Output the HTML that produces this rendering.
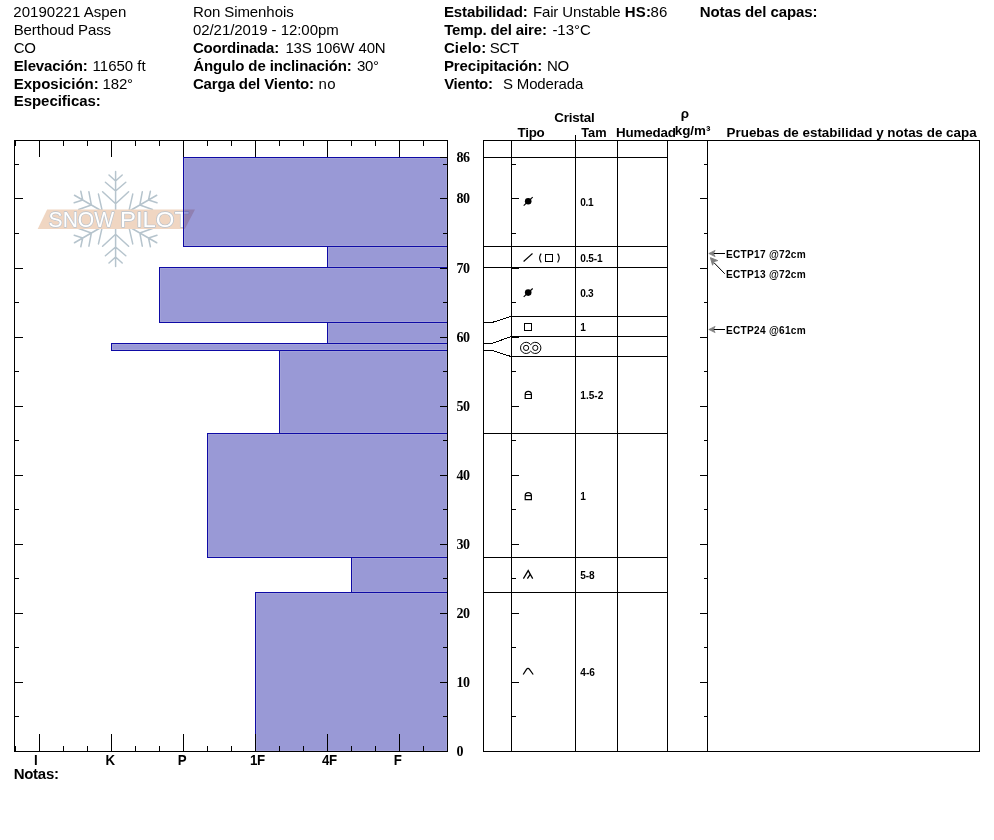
<!DOCTYPE html>
<html lang="es"><head><meta charset="utf-8"><title>SnowPilot - 20190221 Aspen</title>
<style>
html,body{margin:0;padding:0;background:#fff;}
body{width:994px;height:840px;overflow:hidden;font-family:"Liberation Sans",Arial,sans-serif;}
svg{display:block;}

</style></head><body>
<svg width="994" height="840" viewBox="0 0 994 840">
<rect width="994" height="840" fill="#fff"/>
<g id="logo">
<g transform="translate(115.6 219.0)" fill="none" stroke="#b6c4cd" stroke-width="1.5" stroke-linecap="round" stroke-linejoin="round">
<path transform="rotate(0)" d="M0 -9 L0 -47.5 M-6.6 -44 L0 -38 L6.6 -44 M-10.2 -36.7 L0 -28 L10.2 -36.7 M-13 -27.3 L0 -15.3 L13 -27.3"/>
<path transform="rotate(60)" d="M0 -9 L0 -47.5 M-6.6 -44 L0 -38 L6.6 -44 M-10.2 -36.7 L0 -28 L10.2 -36.7 M-13 -27.3 L0 -15.3 L13 -27.3"/>
<path transform="rotate(120)" d="M0 -9 L0 -47.5 M-6.6 -44 L0 -38 L6.6 -44 M-10.2 -36.7 L0 -28 L10.2 -36.7 M-13 -27.3 L0 -15.3 L13 -27.3"/>
<path transform="rotate(180)" d="M0 -9 L0 -47.5 M-6.6 -44 L0 -38 L6.6 -44 M-10.2 -36.7 L0 -28 L10.2 -36.7 M-13 -27.3 L0 -15.3 L13 -27.3"/>
<path transform="rotate(240)" d="M0 -9 L0 -47.5 M-6.6 -44 L0 -38 L6.6 -44 M-10.2 -36.7 L0 -28 L10.2 -36.7 M-13 -27.3 L0 -15.3 L13 -27.3"/>
<path transform="rotate(300)" d="M0 -9 L0 -47.5 M-6.6 -44 L0 -38 L6.6 -44 M-10.2 -36.7 L0 -28 L10.2 -36.7 M-13 -27.3 L0 -15.3 L13 -27.3"/>
</g>
<polygon points="47.1,209.6 195,209.6 184.8,228.9 37.7,228.9" fill="#f0d6c2"/>
<text y="227.3" font-family="Liberation Sans, Arial, Helvetica, sans-serif" font-size="21.5" fill="#ffffff" stroke="#b9c3cd" stroke-width="1.3" stroke-linejoin="round" paint-order="stroke"><tspan x="48.6" textLength="65.5" lengthAdjust="spacingAndGlyphs">SNOW</tspan> <tspan x="120" textLength="69" lengthAdjust="spacingAndGlyphs">PILOT</tspan></text>
</g>
<g shape-rendering="crispEdges">
<rect x="183.5" y="157.5" width="264" height="89" fill="rgba(0,0,153,0.4)" stroke="#0e0aa5" stroke-width="1"/>
<rect x="184.5" y="158.5" width="262" height="87" fill="none" stroke="rgba(255,255,255,0.09)" stroke-width="1"/>
<rect x="327.5" y="246.5" width="120" height="21" fill="rgba(0,0,153,0.4)" stroke="#0e0aa5" stroke-width="1"/>
<rect x="328.5" y="247.5" width="118" height="19" fill="none" stroke="rgba(255,255,255,0.09)" stroke-width="1"/>
<rect x="159.5" y="267.5" width="288" height="55" fill="rgba(0,0,153,0.4)" stroke="#0e0aa5" stroke-width="1"/>
<rect x="160.5" y="268.5" width="286" height="53" fill="none" stroke="rgba(255,255,255,0.09)" stroke-width="1"/>
<rect x="327.5" y="322.5" width="120" height="21" fill="rgba(0,0,153,0.4)" stroke="#0e0aa5" stroke-width="1"/>
<rect x="328.5" y="323.5" width="118" height="19" fill="none" stroke="rgba(255,255,255,0.09)" stroke-width="1"/>
<rect x="111.5" y="343.5" width="336" height="7" fill="rgba(0,0,153,0.4)" stroke="#0e0aa5" stroke-width="1"/>
<rect x="112.5" y="344.5" width="334" height="5" fill="none" stroke="rgba(255,255,255,0.09)" stroke-width="1"/>
<rect x="279.5" y="350.5" width="168" height="83" fill="rgba(0,0,153,0.4)" stroke="#0e0aa5" stroke-width="1"/>
<rect x="280.5" y="351.5" width="166" height="81" fill="none" stroke="rgba(255,255,255,0.09)" stroke-width="1"/>
<rect x="207.5" y="433.5" width="240" height="124" fill="rgba(0,0,153,0.4)" stroke="#0e0aa5" stroke-width="1"/>
<rect x="208.5" y="434.5" width="238" height="122" fill="none" stroke="rgba(255,255,255,0.09)" stroke-width="1"/>
<rect x="351.5" y="557.5" width="96" height="35" fill="rgba(0,0,153,0.4)" stroke="#0e0aa5" stroke-width="1"/>
<rect x="352.5" y="558.5" width="94" height="33" fill="none" stroke="rgba(255,255,255,0.09)" stroke-width="1"/>
<rect x="255.5" y="592.5" width="192" height="159" fill="rgba(0,0,153,0.4)" stroke="#0e0aa5" stroke-width="1"/>
<rect x="256.5" y="593.5" width="190" height="157" fill="none" stroke="rgba(255,255,255,0.09)" stroke-width="1"/>
<rect x="14" y="140" width="434" height="1" fill="#000"/>
<rect x="14" y="751" width="434" height="1" fill="#000"/>
<rect x="14" y="140" width="1" height="612" fill="#000"/>
<rect x="447" y="140" width="1" height="612" fill="#000"/>
<rect x="15" y="141" width="1" height="5" fill="#000"/>
<rect x="15" y="746" width="1" height="5" fill="#000"/>
<rect x="39" y="141" width="1" height="16" fill="#000"/>
<rect x="39" y="734" width="1" height="17" fill="#000"/>
<rect x="63" y="141" width="1" height="5" fill="#000"/>
<rect x="63" y="746" width="1" height="5" fill="#000"/>
<rect x="87" y="141" width="1" height="5" fill="#000"/>
<rect x="87" y="746" width="1" height="5" fill="#000"/>
<rect x="111" y="141" width="1" height="16" fill="#000"/>
<rect x="111" y="734" width="1" height="17" fill="#000"/>
<rect x="135" y="141" width="1" height="5" fill="#000"/>
<rect x="135" y="746" width="1" height="5" fill="#000"/>
<rect x="159" y="141" width="1" height="5" fill="#000"/>
<rect x="159" y="746" width="1" height="5" fill="#000"/>
<rect x="183" y="141" width="1" height="16" fill="#000"/>
<rect x="183" y="734" width="1" height="17" fill="#000"/>
<rect x="207" y="141" width="1" height="5" fill="#000"/>
<rect x="207" y="746" width="1" height="5" fill="#000"/>
<rect x="231" y="141" width="1" height="5" fill="#000"/>
<rect x="231" y="746" width="1" height="5" fill="#000"/>
<rect x="255" y="141" width="1" height="16" fill="#000"/>
<rect x="255" y="734" width="1" height="17" fill="#000"/>
<rect x="279" y="141" width="1" height="5" fill="#000"/>
<rect x="279" y="746" width="1" height="5" fill="#000"/>
<rect x="303" y="141" width="1" height="5" fill="#000"/>
<rect x="303" y="746" width="1" height="5" fill="#000"/>
<rect x="327" y="141" width="1" height="16" fill="#000"/>
<rect x="327" y="734" width="1" height="17" fill="#000"/>
<rect x="351" y="141" width="1" height="5" fill="#000"/>
<rect x="351" y="746" width="1" height="5" fill="#000"/>
<rect x="375" y="141" width="1" height="5" fill="#000"/>
<rect x="375" y="746" width="1" height="5" fill="#000"/>
<rect x="399" y="141" width="1" height="16" fill="#000"/>
<rect x="399" y="734" width="1" height="17" fill="#000"/>
<rect x="423" y="141" width="1" height="5" fill="#000"/>
<rect x="423" y="746" width="1" height="5" fill="#000"/>
<rect x="447" y="141" width="1" height="5" fill="#000"/>
<rect x="447" y="746" width="1" height="5" fill="#000"/>
<rect x="15" y="716" width="4" height="1" fill="#000"/>
<rect x="443" y="716" width="4" height="1" fill="#000"/>
<rect x="15" y="682" width="8" height="1" fill="#000"/>
<rect x="440" y="682" width="7" height="1" fill="#000"/>
<rect x="15" y="647" width="4" height="1" fill="#000"/>
<rect x="443" y="647" width="4" height="1" fill="#000"/>
<rect x="15" y="613" width="8" height="1" fill="#000"/>
<rect x="440" y="613" width="7" height="1" fill="#000"/>
<rect x="15" y="578" width="4" height="1" fill="#000"/>
<rect x="443" y="578" width="4" height="1" fill="#000"/>
<rect x="15" y="544" width="8" height="1" fill="#000"/>
<rect x="440" y="544" width="7" height="1" fill="#000"/>
<rect x="15" y="509" width="4" height="1" fill="#000"/>
<rect x="443" y="509" width="4" height="1" fill="#000"/>
<rect x="15" y="475" width="8" height="1" fill="#000"/>
<rect x="440" y="475" width="7" height="1" fill="#000"/>
<rect x="15" y="440" width="4" height="1" fill="#000"/>
<rect x="443" y="440" width="4" height="1" fill="#000"/>
<rect x="15" y="406" width="8" height="1" fill="#000"/>
<rect x="440" y="406" width="7" height="1" fill="#000"/>
<rect x="15" y="371" width="4" height="1" fill="#000"/>
<rect x="443" y="371" width="4" height="1" fill="#000"/>
<rect x="15" y="337" width="8" height="1" fill="#000"/>
<rect x="440" y="337" width="7" height="1" fill="#000"/>
<rect x="15" y="302" width="4" height="1" fill="#000"/>
<rect x="443" y="302" width="4" height="1" fill="#000"/>
<rect x="15" y="268" width="8" height="1" fill="#000"/>
<rect x="440" y="268" width="7" height="1" fill="#000"/>
<rect x="15" y="233" width="4" height="1" fill="#000"/>
<rect x="443" y="233" width="4" height="1" fill="#000"/>
<rect x="15" y="198" width="8" height="1" fill="#000"/>
<rect x="440" y="198" width="7" height="1" fill="#000"/>
<rect x="15" y="164" width="4" height="1" fill="#000"/>
<rect x="443" y="164" width="4" height="1" fill="#000"/>
<rect x="440" y="157" width="7" height="1" fill="#000"/>
</g>
<text transform="translate(34.0 765) scale(0.95 1)" font-family="Liberation Sans, Arial, Helvetica, sans-serif" font-weight="bold" font-size="14" letter-spacing="0">I</text>
<text transform="translate(105.5 765) scale(0.95 1)" font-family="Liberation Sans, Arial, Helvetica, sans-serif" font-weight="bold" font-size="14" letter-spacing="0">K</text>
<text transform="translate(177.7 765) scale(0.95 1)" font-family="Liberation Sans, Arial, Helvetica, sans-serif" font-weight="bold" font-size="14" letter-spacing="0">P</text>
<text transform="translate(250.1 765) scale(0.95 1)" font-family="Liberation Sans, Arial, Helvetica, sans-serif" font-weight="bold" font-size="14" letter-spacing="-0.5">1F</text>
<text transform="translate(322.1 765) scale(0.95 1)" font-family="Liberation Sans, Arial, Helvetica, sans-serif" font-weight="bold" font-size="14" letter-spacing="-0.6">4F</text>
<text transform="translate(393.8 765) scale(0.95 1)" font-family="Liberation Sans, Arial, Helvetica, sans-serif" font-weight="bold" font-size="14" letter-spacing="0">F</text>
<text x="456.4" y="162.2" font-family="Liberation Serif, Times New Roman, serif" font-weight="bold" font-size="14" letter-spacing="-0.3">86</text>
<text x="456.4" y="203.2" font-family="Liberation Serif, Times New Roman, serif" font-weight="bold" font-size="14" letter-spacing="-0.3">80</text>
<text x="456.4" y="273.2" font-family="Liberation Serif, Times New Roman, serif" font-weight="bold" font-size="14" letter-spacing="-0.3">70</text>
<text x="456.4" y="342.2" font-family="Liberation Serif, Times New Roman, serif" font-weight="bold" font-size="14" letter-spacing="-0.3">60</text>
<text x="456.4" y="411.2" font-family="Liberation Serif, Times New Roman, serif" font-weight="bold" font-size="14" letter-spacing="-0.3">50</text>
<text x="456.4" y="480.2" font-family="Liberation Serif, Times New Roman, serif" font-weight="bold" font-size="14" letter-spacing="-0.3">40</text>
<text x="456.4" y="549.2" font-family="Liberation Serif, Times New Roman, serif" font-weight="bold" font-size="14" letter-spacing="-0.3">30</text>
<text x="456.4" y="618.2" font-family="Liberation Serif, Times New Roman, serif" font-weight="bold" font-size="14" letter-spacing="-0.3">20</text>
<text x="456.4" y="687.2" font-family="Liberation Serif, Times New Roman, serif" font-weight="bold" font-size="14" letter-spacing="-0.3">10</text>
<text x="456.4" y="756.2" font-family="Liberation Serif, Times New Roman, serif" font-weight="bold" font-size="14" letter-spacing="-0.3">0</text>
<g shape-rendering="crispEdges">
<rect x="483" y="140" width="497" height="1" fill="#000"/>
<rect x="483" y="751" width="497" height="1" fill="#000"/>
<rect x="483" y="140" width="1" height="612" fill="#000"/>
<rect x="979" y="140" width="1" height="612" fill="#000"/>
<rect x="511" y="140" width="1" height="612" fill="#000"/>
<rect x="575" y="135" width="1" height="617" fill="#000"/>
<rect x="617" y="140" width="1" height="612" fill="#000"/>
<rect x="667" y="140" width="1" height="612" fill="#000"/>
<rect x="707" y="140" width="1" height="612" fill="#000"/>
<rect x="483" y="157" width="185" height="1" fill="#000"/>
<rect x="483" y="246" width="185" height="1" fill="#000"/>
<rect x="483" y="267" width="185" height="1" fill="#000"/>
<rect x="511" y="316" width="157" height="1" fill="#000"/>
<rect x="511" y="336" width="157" height="1" fill="#000"/>
<rect x="511" y="356" width="157" height="1" fill="#000"/>
<rect x="483" y="433" width="185" height="1" fill="#000"/>
<rect x="483" y="557" width="185" height="1" fill="#000"/>
<rect x="483" y="592" width="185" height="1" fill="#000"/>
<rect x="512" y="716" width="4" height="1" fill="#000"/>
<rect x="704" y="716" width="3" height="1" fill="#000"/>
<rect x="512" y="682" width="7" height="1" fill="#000"/>
<rect x="700" y="682" width="7" height="1" fill="#000"/>
<rect x="512" y="647" width="4" height="1" fill="#000"/>
<rect x="704" y="647" width="3" height="1" fill="#000"/>
<rect x="512" y="613" width="7" height="1" fill="#000"/>
<rect x="700" y="613" width="7" height="1" fill="#000"/>
<rect x="512" y="578" width="4" height="1" fill="#000"/>
<rect x="704" y="578" width="3" height="1" fill="#000"/>
<rect x="512" y="544" width="7" height="1" fill="#000"/>
<rect x="700" y="544" width="7" height="1" fill="#000"/>
<rect x="512" y="509" width="4" height="1" fill="#000"/>
<rect x="704" y="509" width="3" height="1" fill="#000"/>
<rect x="512" y="475" width="7" height="1" fill="#000"/>
<rect x="700" y="475" width="7" height="1" fill="#000"/>
<rect x="512" y="440" width="4" height="1" fill="#000"/>
<rect x="704" y="440" width="3" height="1" fill="#000"/>
<rect x="512" y="406" width="7" height="1" fill="#000"/>
<rect x="700" y="406" width="7" height="1" fill="#000"/>
<rect x="512" y="371" width="4" height="1" fill="#000"/>
<rect x="704" y="371" width="3" height="1" fill="#000"/>
<rect x="512" y="337" width="7" height="1" fill="#000"/>
<rect x="700" y="337" width="7" height="1" fill="#000"/>
<rect x="512" y="302" width="4" height="1" fill="#000"/>
<rect x="704" y="302" width="3" height="1" fill="#000"/>
<rect x="512" y="268" width="7" height="1" fill="#000"/>
<rect x="700" y="268" width="7" height="1" fill="#000"/>
<rect x="512" y="233" width="4" height="1" fill="#000"/>
<rect x="704" y="233" width="3" height="1" fill="#000"/>
<rect x="512" y="198" width="7" height="1" fill="#000"/>
<rect x="700" y="198" width="7" height="1" fill="#000"/>
<rect x="512" y="164" width="4" height="1" fill="#000"/>
<rect x="704" y="164" width="3" height="1" fill="#000"/>
</g>
<g fill="none" stroke="#000" stroke-width="1" shape-rendering="crispEdges">
<path d="M483 322.5 L492 322.5 L511 316.5"/>
<path d="M483 343.5 L492 343.5 L511 336.5"/>
<path d="M483 350.5 L492 350.5 L511 356.5"/>
</g>
<text x="554.3" y="121.6" font-family="Liberation Sans, Arial, Helvetica, sans-serif" font-weight="bold" font-size="13.4" letter-spacing="-0.2">Cristal</text>
<text x="517.6" y="136.6" font-family="Liberation Sans, Arial, Helvetica, sans-serif" font-weight="bold" font-size="13.4" letter-spacing="-0.3">Tipo</text>
<text x="581.2" y="136.6" font-family="Liberation Sans, Arial, Helvetica, sans-serif" font-weight="bold" font-size="12.8" >Tam</text>
<text x="615.9" y="136.6" font-family="Liberation Sans, Arial, Helvetica, sans-serif" font-weight="bold" font-size="13.4" letter-spacing="-0.15">Humedad</text>
<text x="674.7" y="135" font-family="Liberation Sans, Arial, Helvetica, sans-serif" font-weight="bold" font-size="13.4" >kg/m³</text>
<text x="680.7" y="118" font-family="Liberation Sans, Arial, Helvetica, sans-serif" font-weight="bold" font-size="13.4" >ρ</text>
<text x="726.6" y="136.6" font-family="Liberation Sans, Arial, Helvetica, sans-serif" font-weight="bold" font-size="13.4" >Pruebas de estabilidad y notas de capa</text>
<text x="580.3" y="206.0" font-family="Liberation Sans, Arial, Helvetica, sans-serif" font-weight="bold" font-size="10.1" letter-spacing="-0.4">0.1</text>
<text x="580.3" y="262.1" font-family="Liberation Sans, Arial, Helvetica, sans-serif" font-weight="bold" font-size="10.1" letter-spacing="-0.2">0.5-1</text>
<text x="580.3" y="297.1" font-family="Liberation Sans, Arial, Helvetica, sans-serif" font-weight="bold" font-size="10.1" letter-spacing="-0.4">0.3</text>
<text x="580.3" y="330.7" font-family="Liberation Sans, Arial, Helvetica, sans-serif" font-weight="bold" font-size="10.1" letter-spacing="0">1</text>
<text x="580.3" y="398.9" font-family="Liberation Sans, Arial, Helvetica, sans-serif" font-weight="bold" font-size="10.1" letter-spacing="0">1.5-2</text>
<text x="580.3" y="499.7" font-family="Liberation Sans, Arial, Helvetica, sans-serif" font-weight="bold" font-size="10.1" letter-spacing="0">1</text>
<text x="580.3" y="578.8" font-family="Liberation Sans, Arial, Helvetica, sans-serif" font-weight="bold" font-size="10.1" letter-spacing="-0.1">5-8</text>
<text x="580.3" y="675.8" font-family="Liberation Sans, Arial, Helvetica, sans-serif" font-weight="bold" font-size="10.1" letter-spacing="0">4-6</text>
<g fill="none" stroke="#000" stroke-width="1.15">
<circle cx="528.2" cy="201.3" r="3.3" fill="#000" stroke="none"/>
<path d="M523.7 205.60000000000002 L532.7 197.20000000000002"/>
<circle cx="528.2" cy="292.6" r="3.3" fill="#000" stroke="none"/>
<path d="M523.7 296.90000000000003 L532.7 288.5"/>
<path d="M523.6 261.5 L532.5 253.5"/>
<path d="M541.2 253.6 Q538 258 541.2 262.5"/>
<rect x="545.5" y="254.5" width="7" height="7" shape-rendering="crispEdges" stroke-width="1"/>
<path d="M557.6 253.6 Q560.8 258 557.6 262.5"/>
<rect x="524.5" y="323.5" width="7" height="7" shape-rendering="crispEdges" stroke-width="1"/>
<path d="M530.7 344.71 A5.6 5.6 0 1 0 530.7 351.09 A5.6 5.6 0 1 0 530.7 344.71 Z" stroke-width="1"/>
<circle cx="526.1" cy="347.9" r="2.6" stroke-width="1"/>
<circle cx="535.3" cy="347.9" r="2.6" stroke-width="1"/>
<path d="M525.1999999999999 394.5 L525.1999999999999 398.5 L531.4 398.5 L531.4 394.5 A3.1 3.1 0 0 0 525.1999999999999 394.5 L531.4 394.5" stroke-width="1.2"/>
<path d="M525.1999999999999 495.7 L525.1999999999999 499.7 L531.4 499.7 L531.4 495.7 A3.1 3.1 0 0 0 525.1999999999999 495.7 L531.4 495.7" stroke-width="1.2"/>
<path d="M523.4 578.6 L528.2 570.6 L532.7 578.6 M527.4 578.6 L530 574.6" stroke-width="1.25"/>
<path d="M523.2 674.5 L526.3 669.6 Q528 667.3 529.7 669.6 L533.2 674.5" stroke-width="1.25"/>
</g>
<g stroke="#000" stroke-width="1" fill="none">
<path d="M725 253.5 L713 253.5"/>
<path d="M725 329.5 L713 329.5"/>
<path d="M724.8 273.8 L713.8 262.5"/>
</g>
<polygon transform="translate(708.5 253.5) rotate(0) scale(1)" points="0.3,0 6.6,-3.1 5,0 6.6,3.1" fill="#808080" stroke="#808080" stroke-width="0.8" stroke-linejoin="round"/>
<polygon transform="translate(708.5 329.5) rotate(0) scale(1)" points="0.3,0 6.6,-3.1 5,0 6.6,3.1" fill="#808080" stroke="#808080" stroke-width="0.8" stroke-linejoin="round"/>
<polygon transform="translate(710.2 257.4) rotate(48) scale(1.12)" points="0.3,0 6.6,-3.1 5,0 6.6,3.1" fill="#808080" stroke="#808080" stroke-width="0.8" stroke-linejoin="round"/>
<text x="726.0" y="258" font-family="Liberation Sans, Arial, Helvetica, sans-serif" font-weight="bold" font-size="10.1" letter-spacing="0.28">ECTP17 @72cm</text>
<text x="726.0" y="278" font-family="Liberation Sans, Arial, Helvetica, sans-serif" font-weight="bold" font-size="10.1" letter-spacing="0.28">ECTP13 @72cm</text>
<text x="726.0" y="334" font-family="Liberation Sans, Arial, Helvetica, sans-serif" font-weight="bold" font-size="10.1" letter-spacing="0.28">ECTP24 @61cm</text>
<text x="13.3" y="16.9" font-family="Liberation Sans, Arial, Helvetica, sans-serif" font-size="15" letter-spacing="0.03" xml:space="preserve">20190221 Aspen</text>
<text x="13.7" y="34.8" font-family="Liberation Sans, Arial, Helvetica, sans-serif" font-size="15" letter-spacing="-0.08" xml:space="preserve">Berthoud Pass</text>
<text x="13.7" y="52.7" font-family="Liberation Sans, Arial, Helvetica, sans-serif" font-size="15" letter-spacing="-0.30" xml:space="preserve">CO</text>
<text x="13.7" y="70.6" font-family="Liberation Sans, Arial, Helvetica, sans-serif" font-size="15" font-weight="bold" letter-spacing="-0.11" xml:space="preserve">Elevación:</text>
<text x="92.6" y="70.6" font-family="Liberation Sans, Arial, Helvetica, sans-serif" font-size="15" xml:space="preserve">11650 ft</text>
<text x="13.7" y="88.5" font-family="Liberation Sans, Arial, Helvetica, sans-serif" font-size="15" font-weight="bold" xml:space="preserve">Exposición:</text>
<text x="102.6" y="88.5" font-family="Liberation Sans, Arial, Helvetica, sans-serif" font-size="15" letter-spacing="-0.17" xml:space="preserve">182°</text>
<text x="13.7" y="106.4" font-family="Liberation Sans, Arial, Helvetica, sans-serif" font-size="15" font-weight="bold" letter-spacing="-0.04" xml:space="preserve">Especificas:</text>
<text x="192.9" y="16.9" font-family="Liberation Sans, Arial, Helvetica, sans-serif" font-size="15" letter-spacing="-0.08" xml:space="preserve">Ron Simenhois</text>
<text x="192.9" y="34.8" font-family="Liberation Sans, Arial, Helvetica, sans-serif" font-size="15" letter-spacing="-0.05" xml:space="preserve">02/21/2019 - 12:00pm</text>
<text x="192.9" y="52.7" font-family="Liberation Sans, Arial, Helvetica, sans-serif" font-size="15" font-weight="bold" letter-spacing="-0.20" xml:space="preserve">Coordinada:</text>
<text x="285.4" y="52.7" font-family="Liberation Sans, Arial, Helvetica, sans-serif" font-size="15" letter-spacing="-0.13" xml:space="preserve">13S 106W 40N</text>
<text x="193.3" y="70.6" font-family="Liberation Sans, Arial, Helvetica, sans-serif" font-size="15" font-weight="bold" letter-spacing="-0.11" xml:space="preserve">Ángulo de inclinación:</text>
<text x="356.9" y="70.6" font-family="Liberation Sans, Arial, Helvetica, sans-serif" font-size="15" letter-spacing="-0.30" xml:space="preserve">30°</text>
<text x="192.9" y="88.5" font-family="Liberation Sans, Arial, Helvetica, sans-serif" font-size="15" font-weight="bold" letter-spacing="-0.12" xml:space="preserve">Carga del Viento:</text>
<text x="318.6" y="88.5" font-family="Liberation Sans, Arial, Helvetica, sans-serif" font-size="15" letter-spacing="0.30" xml:space="preserve">no</text>
<text x="443.9" y="16.9" font-family="Liberation Sans, Arial, Helvetica, sans-serif" font-size="15" font-weight="bold" letter-spacing="-0.11" xml:space="preserve">Estabilidad:</text>
<text x="532.9" y="16.9" font-family="Liberation Sans, Arial, Helvetica, sans-serif" font-size="15" letter-spacing="-0.13" xml:space="preserve">Fair Unstable</text>
<text x="624.7" y="16.9" font-family="Liberation Sans, Arial, Helvetica, sans-serif" font-size="15" font-weight="bold" letter-spacing="0.30" xml:space="preserve">HS:</text>
<text x="650.4" y="16.9" font-family="Liberation Sans, Arial, Helvetica, sans-serif" font-size="15" letter-spacing="0.30" xml:space="preserve">86</text>
<text x="444.2" y="34.8" font-family="Liberation Sans, Arial, Helvetica, sans-serif" font-size="15" font-weight="bold" letter-spacing="-0.14" xml:space="preserve">Temp. del aire:</text>
<text x="552.4" y="34.8" font-family="Liberation Sans, Arial, Helvetica, sans-serif" font-size="15" letter-spacing="-0.03" xml:space="preserve">-13°C</text>
<text x="443.9" y="52.7" font-family="Liberation Sans, Arial, Helvetica, sans-serif" font-size="15" font-weight="bold" letter-spacing="0.14" xml:space="preserve">Cielo:</text>
<text x="489.7" y="52.7" font-family="Liberation Sans, Arial, Helvetica, sans-serif" font-size="15" letter-spacing="-0.30" xml:space="preserve">SCT</text>
<text x="443.9" y="70.6" font-family="Liberation Sans, Arial, Helvetica, sans-serif" font-size="15" font-weight="bold" letter-spacing="-0.07" xml:space="preserve">Precipitación:</text>
<text x="546.9" y="70.6" font-family="Liberation Sans, Arial, Helvetica, sans-serif" font-size="15" letter-spacing="-0.30" xml:space="preserve">NO</text>
<text x="444.2" y="88.5" font-family="Liberation Sans, Arial, Helvetica, sans-serif" font-size="15" font-weight="bold" letter-spacing="-0.30" xml:space="preserve">Viento:</text>
<text x="502.9" y="88.5" font-family="Liberation Sans, Arial, Helvetica, sans-serif" font-size="15" letter-spacing="-0.14" xml:space="preserve">S Moderada</text>
<text x="699.7" y="16.9" font-family="Liberation Sans, Arial, Helvetica, sans-serif" font-size="15" font-weight="bold" letter-spacing="-0.09" xml:space="preserve">Notas del capas:</text>
<text x="13.7" y="778.5" font-family="Liberation Sans, Arial, Helvetica, sans-serif" font-size="15" font-weight="bold" letter-spacing="-0.28" xml:space="preserve">Notas:</text>
</svg>
</body></html>
